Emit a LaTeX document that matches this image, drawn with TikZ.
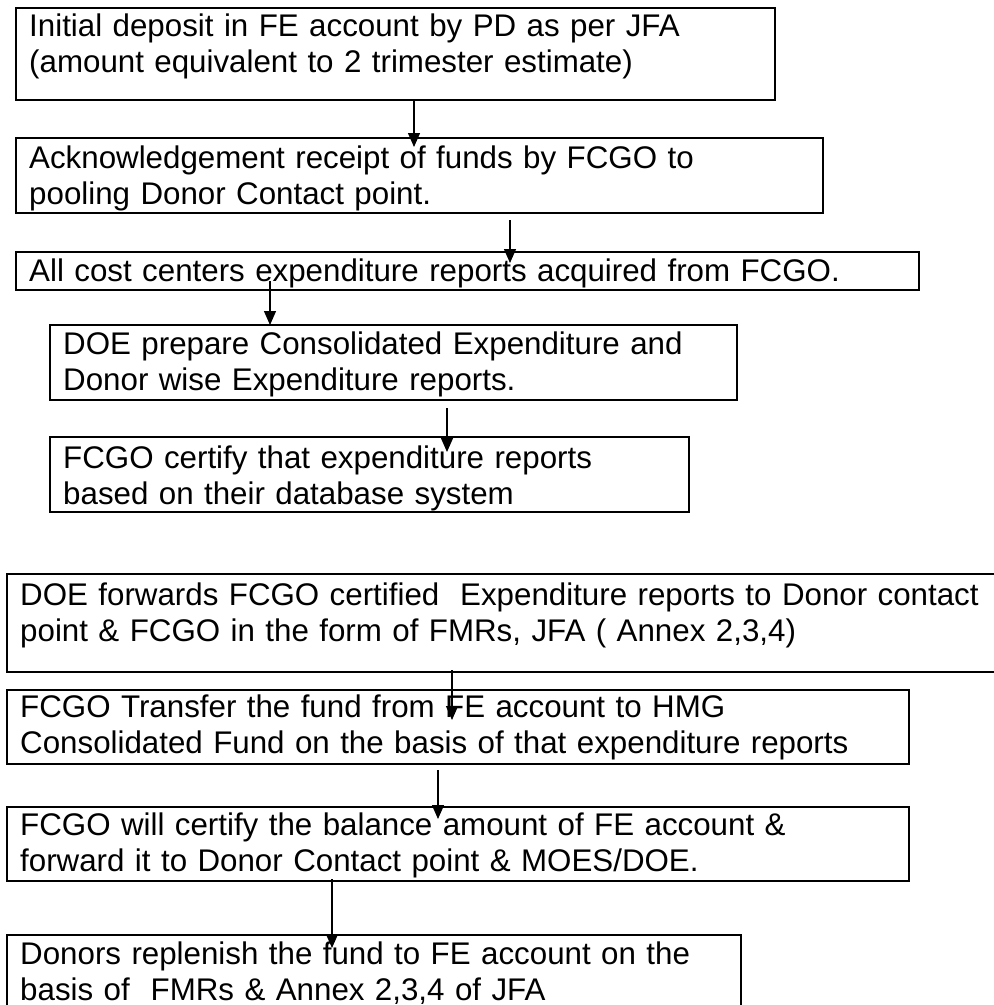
\documentclass[tikz,border=0pt]{standalone}
\usepackage{fontspec}
\setmainfont{Liberation Sans}
\usetikzlibrary{arrows.meta}

\tikzset{
	stepbox/.style={draw,black,line width=2pt,anchor=north west,inner sep=0pt},
	steptext/.style={anchor=base west,inner sep=0pt,text width=1100pt,align=left,font=\fontsize{31.3}{36}\selectfont},
	arr/.style={black,line width=1.3pt,-{Triangle[length=14pt,width=12pt]}}
}

\begin{document}
\begin{tikzpicture}[x=1pt,y=-1pt]
	\useasboundingbox (0,0) rectangle (994,1005);
\node[stepbox,minimum width=759pt,minimum height=92pt] (b1) at (15,7) {};
\node[stepbox,minimum width=807pt,minimum height=75pt] (b2) at (15,137) {};
\node[stepbox,minimum width=903pt,minimum height=38pt] (b3) at (15,251) {};
\node[stepbox,minimum width=687pt,minimum height=75pt] (b4) at (49,324) {};
\node[stepbox,minimum width=639pt,minimum height=75pt] (b5) at (49,436) {};
\node[stepbox,minimum width=1010pt,minimum height=98pt] (b6) at (6,573) {};
\node[stepbox,minimum width=902pt,minimum height=74pt] (b7) at (6,689) {};
\node[stepbox,minimum width=902pt,minimum height=74pt] (b8) at (6,806) {};
\node[stepbox,minimum width=734pt,minimum height=90pt] (b9) at (6,934) {};

\node[steptext] (t1) at ([shift={(14,29)}]b1.north west) {Initial deposit in FE account by PD as per JFA\\(amount equivalent to 2 trimester estimate)};
\node[steptext] (t2) at ([shift={(14,31)}]b2.north west) {Acknowledgement receipt of funds by FCGO to\\pooling Donor Contact point.};
\node[steptext] (t3) at ([shift={(14,30)}]b3.north west) {All cost centers expenditure reports acquired from FCGO.};
\node[steptext] (t4) at ([shift={(14,30)}]b4.north west) {DOE prepare Consolidated Expenditure and\\Donor wise Expenditure reports.};
\node[steptext] (t5) at ([shift={(14,32)}]b5.north west) {FCGO certify that expenditure reports\\based on their database system};
\node[steptext] (t6) at ([shift={(14,32)}]b6.north west) {DOE forwards FCGO certified\ \ Expenditure reports to Donor contact\\point \& FCGO in the form of FMRs, JFA ( Annex 2,3,4)};
\node[steptext] (t7) at ([shift={(14,28)}]b7.north west) {FCGO Transfer the fund from FE account to HMG\\Consolidated Fund on the basis of that expenditure reports};
\node[steptext] (t8) at ([shift={(14,29)}]b8.north west) {FCGO will certify the balance amount of FE account \&\\forward it to Donor Contact point \& MOES/DOE.};
\node[steptext] (t9) at ([shift={(14,30)}]b9.north west) {Donors replenish the fund to FE account on the\\basis of\ \ FMRs \& Annex 2,3,4 of JFA};

\draw[arr] ([shift={(399,0)}]b1.south west) -- ([shift={(399,10)}]b2.north west);
\draw[arr] ([shift={(495,6)}]b2.south west) -- ([shift={(495,12)}]b3.north west);
\draw[arr] ([shift={(255,-10)}]b3.south west) -- ([shift={(221,1)}]b4.north west);
\draw[arr] ([shift={(398,7)}]b4.south west) -- ([shift={(398,16)}]b5.north west);
\draw[arr] ([shift={(446,-3)}]b6.south west) -- ([shift={(446,31)}]b7.north west);
\draw[arr] ([shift={(432,5)}]b7.south west) -- ([shift={(432,13)}]b8.north west);
\draw[arr] ([shift={(326,-3)}]b8.south west) -- ([shift={(326,14)}]b9.north west);

\end{tikzpicture}
\end{document}
